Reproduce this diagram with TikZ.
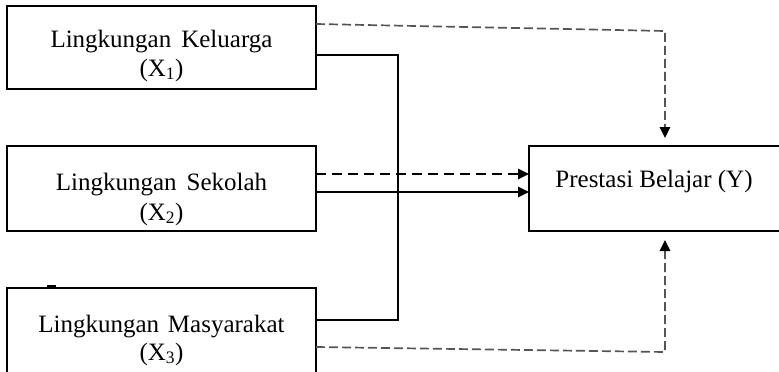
\documentclass[tikz,border=0pt]{standalone}
\usepackage{fontspec}
\setmainfont{Liberation Serif}
\usetikzlibrary{arrows.meta}
\definecolor{dashgray}{RGB}{85,85,85}
\begin{document}
\begin{tikzpicture}[x=1pt,y=-1pt,
  box/.style={draw=black,line width=1.4pt,rectangle,inner sep=0pt,outer sep=0pt},
  lbl/.style={anchor=base,inner sep=0pt,font=\fontsize{25}{30}\selectfont},
  link/.style={draw=black,line width=1.4pt},
  tip/.style={-{Triangle[length=11pt,width=10.5pt,color=black]}},
  blackdash/.style={dash pattern=on 10pt off 6pt},
  graydash/.style={draw=dashgray,line width=1.7pt,dash pattern=on 9pt off 4pt}]
\useasboundingbox (0,0) rectangle (779,372);
\clip (0,0) rectangle (779,372);
% boxes
\node[box,minimum width=309pt,minimum height=83pt] (k1) at (161.5,47.5) {};
\node[box,minimum width=309pt,minimum height=85pt] (k2) at (161.5,188.5) {};
\node[box,minimum width=309pt,minimum height=90pt] (k3) at (161.5,333) {};
\node[box,minimum width=260pt,minimum height=85pt] (py) at (659,188.5) {};
% texts
\node[lbl] (k1a) at (161.5,47) {Lingkungan\hspace{0.4em}Keluarga};
\node[lbl] (k1b) at (161.5,76) {(X\textsubscript{1})};
\node[lbl] (k2a) at (161.5,190) {Lingkungan\hspace{0.4em}Sekolah};
\node[lbl] (k2b) at (161.5,220) {(X\textsubscript{2})};
\node[lbl] (k3a) at (161.5,332) {Lingkungan\hspace{0.35em}Masyarakat};
\node[lbl] (k3b) at (161.5,360) {(X\textsubscript{3})};
\node[lbl] (pya) at (654,187) {Prestasi Belajar (Y)};
% coordinates
\coordinate (j1) at (398,55);
\coordinate (j2) at (398,320);
\coordinate (s2) at (450,192);
\coordinate (d2) at (450,174);
\coordinate (t0) at (450,24);
\coordinate (t1) at (665,31);
\coordinate (b0) at (450,347);
\coordinate (b1) at (665,352);
\coordinate (m0) at (47,286);
\coordinate (m1) at (56,286);
% solid connectors
\draw[link] (k1.east |- j1) -- (j1) -- (j2) -- (k3.east |- j2);
\draw[link,tip] (k2.east |- s2) -- (py.west |- s2);
\draw[link,tip,blackdash] (k2.east |- d2) -- (py.west |- d2);
% gray dashed connectors
\draw[graydash,tip,shorten >=8pt] (k1.east |- t0) -- (t1) -- (py.north -| t1);
\draw[graydash,tip,shorten >=9pt] (k3.east |- b0) -- (b1) -- (py.south -| b1);
% small mark
\draw[line width=2pt] (m0) -- (m1);
\end{tikzpicture}
\end{document}
